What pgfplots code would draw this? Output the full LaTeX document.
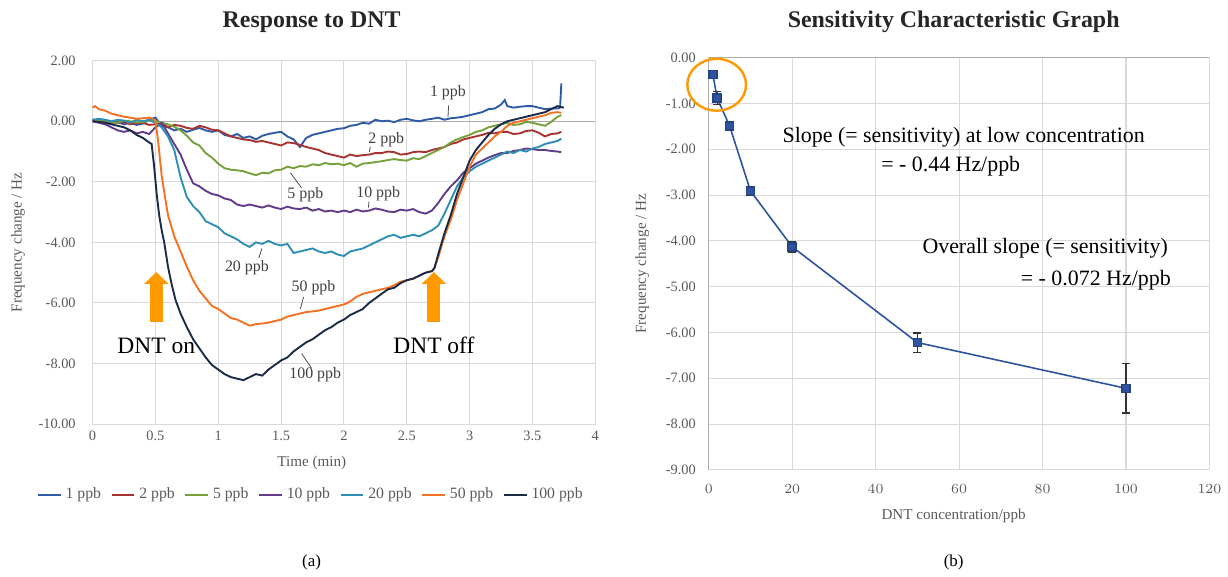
\documentclass[border=0pt]{standalone}
\usepackage{fontspec}
\setmainfont{Liberation Serif}
\usepackage{pgfplots}
\pgfplotsset{compat=1.18}
\usetikzlibrary{arrows.meta}
\definecolor{c1}{RGB}{46,90,166}
\definecolor{c2}{RGB}{168,50,45}
\definecolor{c5}{RGB}{118,160,58}
\definecolor{c10}{RGB}{96,60,138}
\definecolor{c20}{RGB}{46,143,181}
\definecolor{c50}{RGB}{244,112,35}
\definecolor{c100}{RGB}{27,42,71}
\definecolor{ticktxt}{RGB}{89,89,89}
\definecolor{arrowor}{RGB}{255,153,0}
\definecolor{ptblue}{RGB}{46,84,161}
\definecolor{gridc}{RGB}{217,217,217}

\pgfplotsset{
  excel/.style={
    scale only axis,
    grid=major,
    grid style={gridc, line width=0.55pt},
    axis line style={gridc, line width=0.55pt},
    major tick length=0pt,
    tick label style={font=\fontsize{7.2}{8}\selectfont, text=ticktxt},
    label style={font=\fontsize{7.6}{9}\selectfont, text=ticktxt},
    clip=false,
  }
}

\begin{document}
\begin{tikzpicture}[x=1pt,y=1pt]
\path (0,0) rectangle (614,289);

% ---------- (a) response curves ----------
\begin{axis}[excel,
  at={(46.5pt,76pt)}, anchor=south west,
  width=252.5pt, height=182.5pt,
  xmin=0, xmax=4, ymin=-10, ymax=2,
  xtick={0,0.5,1,1.5,2,2.5,3,3.5,4},
  xticklabels={0,0.5,1,1.5,2,2.5,3,3.5,4},
  ytick={-10,-8,-6,-4,-2,0,2},
  yticklabels={-10.00,-8.00,-6.00,-4.00,-2.00,0.00,2.00},
  yticklabel style={xshift=-5pt},
  xlabel={Time (min)},
  ylabel={Frequency change / Hz},
  xlabel style={at={(axis description cs:0.436,-0.107)}, anchor=center},
  ylabel style={at={(axis description cs:-0.1485,0.5)}, anchor=center, rotate=0},
  legend columns=7,
  legend style={at={(0.436,-0.152)}, anchor=north, draw=none, fill=none,
    font=\fontsize{7.9}{9}\selectfont, text=ticktxt,
    /tikz/every even column/.append style={column sep=2.8pt}},
  legend image code/.code={\draw[#1] (0pt,0pt) -- (11.5pt,0pt);},
  every axis plot/.append style={line width=0.95pt, mark=none},
]
\draw[gray!65, line width=0.6pt] (axis cs:0,0) -- (axis cs:4,0);

\addplot[c1] coordinates {
(0,0.05) (0.05,0.0) (0.1,0.02) (0.15,-0.05) (0.2,-0.03) (0.25,-0.1) (0.3,-0.05) (0.35,-0.12)
(0.4,-0.08) (0.45,0.05) (0.5,0.12) (0.55,-0.15) (0.6,-0.2) (0.65,-0.3) (0.7,-0.25) (0.75,-0.35)
(0.8,-0.28) (0.85,-0.22) (0.9,-0.3) (0.95,-0.35) (1.0,-0.3) (1.05,-0.45) (1.1,-0.5) (1.15,-0.42)
(1.2,-0.55) (1.25,-0.5) (1.3,-0.6) (1.35,-0.48) (1.4,-0.42) (1.45,-0.38) (1.5,-0.35) (1.55,-0.5)
(1.6,-0.6) (1.65,-0.85) (1.7,-0.55) (1.75,-0.45) (1.8,-0.4) (1.85,-0.35) (1.9,-0.3) (1.95,-0.25)
(2.0,-0.23) (2.05,-0.15) (2.1,-0.12) (2.15,-0.05) (2.2,-0.08) (2.25,0.05) (2.3,0.0) (2.35,0.02)
(2.4,-0.03) (2.45,0.05) (2.5,0.08) (2.55,0.03) (2.6,0.0) (2.65,0.05) (2.7,0.08) (2.75,0.12)
(2.8,0.05) (2.85,0.1) (2.9,0.12) (2.95,0.15) (3.0,0.2) (3.05,0.25) (3.1,0.3) (3.15,0.4)
(3.2,0.42) (3.25,0.55) (3.28,0.7) (3.3,0.5) (3.35,0.45) (3.4,0.48) (3.45,0.5) (3.5,0.5)
(3.55,0.45) (3.6,0.4) (3.65,0.42) (3.7,0.42) (3.72,0.45) (3.73,1.25)};
\addlegendentry{1 ppb}

\addplot[c2] coordinates {
(0,0.05) (0.05,0.02) (0.1,0.0) (0.15,-0.03) (0.2,-0.05) (0.25,-0.02) (0.3,-0.1) (0.35,-0.06)
(0.4,-0.05) (0.45,-0.12) (0.5,-0.1) (0.55,-0.05) (0.6,-0.2) (0.65,-0.12) (0.7,-0.15) (0.75,-0.22)
(0.8,-0.25) (0.85,-0.15) (0.9,-0.2) (0.95,-0.28) (1.0,-0.3) (1.05,-0.4) (1.1,-0.5) (1.15,-0.55)
(1.2,-0.6) (1.25,-0.62) (1.3,-0.68) (1.35,-0.65) (1.4,-0.7) (1.45,-0.75) (1.5,-0.8) (1.55,-0.7)
(1.6,-0.72) (1.65,-0.78) (1.7,-0.85) (1.75,-0.9) (1.8,-0.95) (1.85,-1.05) (1.9,-1.1) (1.95,-1.15)
(2.0,-1.2) (2.05,-1.1) (2.1,-1.15) (2.15,-1.12) (2.2,-1.1) (2.25,-1.05) (2.3,-1.05) (2.35,-1.0)
(2.4,-1.02) (2.45,-1.1) (2.5,-1.08) (2.55,-1.02) (2.6,-1.0) (2.65,-1.02) (2.7,-0.95) (2.75,-0.9)
(2.8,-0.85) (2.85,-0.75) (2.9,-0.7) (2.95,-0.6) (3.0,-0.55) (3.05,-0.5) (3.1,-0.45) (3.15,-0.38)
(3.2,-0.4) (3.25,-0.35) (3.3,-0.35) (3.35,-0.42) (3.4,-0.4) (3.45,-0.32) (3.5,-0.3) (3.55,-0.38)
(3.6,-0.5) (3.65,-0.42) (3.7,-0.4) (3.73,-0.35)};
\addlegendentry{2 ppb}

\addplot[c5] coordinates {
(0,0.0) (0.05,0.03) (0.1,0.02) (0.15,-0.02) (0.2,-0.05) (0.25,0.02) (0.3,0.0) (0.35,-0.04)
(0.4,-0.03) (0.45,0.02) (0.5,0.02) (0.55,-0.05) (0.6,-0.1) (0.65,-0.18) (0.7,-0.3) (0.75,-0.48)
(0.8,-0.7) (0.85,-0.8) (0.9,-1.05) (0.95,-1.2) (1.0,-1.4) (1.05,-1.55) (1.1,-1.6) (1.15,-1.62)
(1.2,-1.65) (1.25,-1.72) (1.3,-1.78) (1.35,-1.7) (1.4,-1.72) (1.45,-1.62) (1.5,-1.6) (1.55,-1.5)
(1.6,-1.55) (1.65,-1.48) (1.7,-1.5) (1.75,-1.42) (1.8,-1.45) (1.85,-1.38) (1.9,-1.42) (1.95,-1.4)
(2.0,-1.45) (2.05,-1.38) (2.1,-1.5) (2.15,-1.4) (2.2,-1.38) (2.25,-1.35) (2.3,-1.32) (2.35,-1.28)
(2.4,-1.25) (2.45,-1.28) (2.5,-1.3) (2.55,-1.22) (2.6,-1.25) (2.65,-1.15) (2.7,-1.05) (2.75,-0.95)
(2.8,-0.85) (2.85,-0.7) (2.9,-0.6) (2.95,-0.52) (3.0,-0.45) (3.05,-0.35) (3.1,-0.3) (3.15,-0.2)
(3.2,-0.15) (3.25,-0.1) (3.3,-0.05) (3.35,-0.12) (3.4,-0.1) (3.45,-0.02) (3.5,-0.05) (3.55,-0.1)
(3.6,-0.15) (3.65,-0.02) (3.7,0.15) (3.73,0.2)};
\addlegendentry{5 ppb}

\addplot[c10] coordinates {
(0,0.0) (0.05,-0.05) (0.1,-0.1) (0.15,-0.2) (0.2,-0.3) (0.25,-0.35) (0.3,-0.3) (0.35,-0.4)
(0.4,-0.35) (0.45,-0.42) (0.5,-0.2) (0.55,-0.05) (0.6,-0.4) (0.65,-0.75) (0.7,-1.1) (0.75,-1.6)
(0.8,-2.05) (0.85,-2.15) (0.9,-2.3) (0.95,-2.4) (1.0,-2.45) (1.05,-2.55) (1.1,-2.6) (1.15,-2.75)
(1.2,-2.8) (1.25,-2.75) (1.3,-2.8) (1.35,-2.85) (1.4,-2.78) (1.45,-2.85) (1.5,-2.9) (1.55,-2.82)
(1.6,-2.88) (1.65,-2.9) (1.7,-2.85) (1.75,-2.95) (1.8,-2.9) (1.85,-2.98) (1.9,-2.95) (1.95,-3.0)
(2.0,-2.95) (2.05,-3.0) (2.1,-2.92) (2.15,-2.98) (2.2,-2.95) (2.25,-2.88) (2.3,-2.92) (2.35,-2.98)
(2.4,-3.0) (2.45,-2.92) (2.5,-2.95) (2.55,-2.9) (2.6,-3.0) (2.65,-3.05) (2.7,-2.95) (2.75,-2.7)
(2.8,-2.4) (2.85,-2.15) (2.9,-1.95) (2.95,-1.7) (3.0,-1.55) (3.05,-1.4) (3.1,-1.3) (3.15,-1.2)
(3.2,-1.12) (3.25,-1.05) (3.3,-1.05) (3.35,-0.98) (3.4,-0.95) (3.45,-0.9) (3.5,-0.92) (3.55,-0.95)
(3.6,-0.95) (3.65,-0.98) (3.7,-1.0) (3.73,-1.02)};
\addlegendentry{10 ppb}

\addplot[c20] coordinates {
(0,0.05) (0.05,0.08) (0.1,0.05) (0.15,0.0) (0.2,0.05) (0.25,0.02) (0.3,-0.05) (0.35,0.05)
(0.4,0.0) (0.45,0.05) (0.5,-0.05) (0.55,-0.2) (0.6,-0.5) (0.65,-0.95) (0.7,-1.85) (0.75,-2.5)
(0.8,-2.8) (0.85,-3.0) (0.9,-3.3) (0.95,-3.4) (1.0,-3.5) (1.05,-3.7) (1.1,-3.8) (1.15,-3.9)
(1.2,-4.05) (1.25,-4.15) (1.3,-4.0) (1.35,-4.05) (1.4,-3.95) (1.45,-4.05) (1.5,-4.1) (1.55,-4.05)
(1.6,-4.35) (1.65,-4.3) (1.7,-4.25) (1.75,-4.2) (1.8,-4.3) (1.85,-4.35) (1.9,-4.3) (1.95,-4.4)
(2.0,-4.45) (2.05,-4.3) (2.1,-4.25) (2.15,-4.2) (2.2,-4.1) (2.25,-4.0) (2.3,-3.9) (2.35,-3.8)
(2.4,-3.75) (2.45,-3.85) (2.5,-3.8) (2.55,-3.75) (2.6,-3.8) (2.65,-3.7) (2.7,-3.6) (2.75,-3.45)
(2.8,-3.05) (2.85,-2.6) (2.9,-2.15) (2.95,-1.85) (3.0,-1.65) (3.05,-1.5) (3.1,-1.4) (3.15,-1.3)
(3.2,-1.2) (3.25,-1.1) (3.3,-1.0) (3.35,-1.05) (3.4,-0.95) (3.45,-1.0) (3.5,-0.9) (3.55,-0.85)
(3.6,-0.75) (3.65,-0.7) (3.7,-0.65) (3.73,-0.57)};
\addlegendentry{20 ppb}

\addplot[c50] coordinates {
(0,0.45) (0.02,0.5) (0.05,0.4) (0.1,0.35) (0.15,0.25) (0.2,0.2) (0.25,0.15) (0.3,0.12)
(0.35,0.08) (0.4,0.1) (0.45,0.12) (0.48,0.08) (0.5,0.0) (0.52,-0.6) (0.55,-1.8) (0.58,-2.6)
(0.6,-3.1) (0.65,-3.8) (0.7,-4.3) (0.75,-4.8) (0.8,-5.25) (0.85,-5.6) (0.9,-5.85) (0.95,-6.1)
(1.0,-6.2) (1.05,-6.35) (1.1,-6.5) (1.15,-6.55) (1.2,-6.65) (1.25,-6.75) (1.3,-6.7) (1.35,-6.68)
(1.4,-6.65) (1.45,-6.6) (1.5,-6.55) (1.55,-6.45) (1.6,-6.4) (1.65,-6.35) (1.7,-6.3) (1.75,-6.28)
(1.8,-6.25) (1.85,-6.2) (1.9,-6.15) (1.95,-6.1) (2.0,-6.05) (2.05,-5.95) (2.1,-5.8) (2.15,-5.7)
(2.2,-5.65) (2.25,-5.6) (2.3,-5.55) (2.35,-5.5) (2.4,-5.42) (2.45,-5.3) (2.5,-5.25) (2.55,-5.2)
(2.6,-5.1) (2.65,-5.0) (2.7,-4.95) (2.72,-4.85) (2.75,-4.5) (2.8,-3.8) (2.85,-3.25) (2.9,-2.6)
(2.95,-2.05) (3.0,-1.5) (3.05,-1.1) (3.1,-0.9) (3.15,-0.7) (3.2,-0.5) (3.25,-0.35) (3.3,-0.15)
(3.35,-0.05) (3.4,0.0) (3.45,0.05) (3.5,0.1) (3.55,0.15) (3.6,0.2) (3.65,0.28) (3.7,0.3) (3.73,0.28)};
\addlegendentry{50 ppb}

\addplot[c100] coordinates {
(0,0.0) (0.05,-0.02) (0.1,-0.05) (0.15,-0.1) (0.2,-0.15) (0.25,-0.2) (0.3,-0.3) (0.35,-0.45)
(0.4,-0.55) (0.45,-0.7) (0.47,-0.75) (0.49,-1.5) (0.51,-2.4) (0.53,-3.1) (0.55,-3.6) (0.57,-4.0)
(0.6,-4.8) (0.63,-5.4) (0.66,-5.9) (0.7,-6.35) (0.75,-6.8) (0.8,-7.2) (0.85,-7.5) (0.9,-7.8)
(0.95,-8.05) (1.0,-8.2) (1.05,-8.35) (1.1,-8.45) (1.15,-8.5) (1.2,-8.55) (1.25,-8.45) (1.3,-8.35)
(1.35,-8.4) (1.4,-8.2) (1.45,-8.05) (1.5,-7.9) (1.55,-7.8) (1.6,-7.6) (1.65,-7.45) (1.7,-7.3)
(1.75,-7.2) (1.8,-7.05) (1.85,-6.9) (1.9,-6.8) (1.95,-6.65) (2.0,-6.55) (2.05,-6.4) (2.1,-6.3)
(2.15,-6.2) (2.2,-6.0) (2.25,-5.85) (2.3,-5.7) (2.35,-5.55) (2.4,-5.5) (2.45,-5.35) (2.5,-5.25)
(2.55,-5.2) (2.6,-5.1) (2.65,-5.0) (2.7,-4.95) (2.72,-4.85) (2.75,-4.4) (2.8,-3.7) (2.85,-3.1)
(2.9,-2.4) (2.95,-1.85) (3.0,-1.3) (3.05,-0.95) (3.1,-0.7) (3.15,-0.45) (3.2,-0.25) (3.25,-0.1)
(3.3,0.0) (3.35,0.05) (3.4,0.1) (3.45,0.15) (3.5,0.2) (3.55,0.25) (3.6,0.3) (3.65,0.4) (3.7,0.5) (3.75,0.45)};
\addlegendentry{100 ppb}

% concentration labels
\begin{scope}[every node/.style={font=\fontsize{8}{9}\selectfont, text=black!75}]
\node at (axis cs:2.828,0.96) {1 ppb};
\draw[black!70, line width=0.4pt] (axis cs:2.833,0.52) -- (axis cs:2.828,0.14);
\node at (axis cs:2.337,-0.62) {2 ppb};
\draw[black!70, line width=0.4pt] (axis cs:2.21,-0.84) -- (axis cs:2.202,-1.01);
\node at (axis cs:2.273,-2.39) {10 ppb};
\draw[black!70, line width=0.4pt] (axis cs:2.2,-2.65) -- (axis cs:2.194,-2.85);
\node at (axis cs:1.693,-2.43) {5 ppb};
\draw[black!70, line width=0.4pt] (axis cs:1.574,-1.70) -- (axis cs:1.663,-2.20);
\node at (axis cs:1.228,-4.82) {20 ppb};
\draw[black!70, line width=0.4pt] (axis cs:1.347,-4.20) -- (axis cs:1.323,-4.52);
\node at (axis cs:1.758,-5.48) {50 ppb};
\draw[black!70, line width=0.4pt] (axis cs:1.679,-5.80) -- (axis cs:1.653,-6.2);
\node at (axis cs:1.772,-8.38) {100 ppb};
\draw[black!70, line width=0.4pt] (axis cs:1.663,-7.67) -- (axis cs:1.743,-8.16);
\end{scope}

% DNT on / off arrows
\draw[arrowor, line width=6.5pt, -{Triangle[width=12pt,length=6pt]}]
  (axis cs:0.507,-6.62) -- (axis cs:0.507,-4.98);
\draw[arrowor, line width=6.5pt, -{Triangle[width=12pt,length=6pt]}]
  (axis cs:2.716,-6.62) -- (axis cs:2.716,-4.98);
\node[font=\fontsize{11.8}{13}\selectfont] at (axis cs:0.507,-7.41) {DNT on};
\node[font=\fontsize{11.8}{13}\selectfont] at (axis cs:2.716,-7.41) {DNT off};
\end{axis}

% ---------- (b) sensitivity ----------
\begin{axis}[excel,
  at={(356pt,53pt)}, anchor=south west,
  width=251.5pt, height=207pt,
  xmin=0, xmax=120, ymin=-9, ymax=0,
  xtick={0,20,40,60,80,100,120},
  ytick={-9,-8,-7,-6,-5,-4,-3,-2,-1,0},
  yticklabels={-9.00,-8.00,-7.00,-6.00,-5.00,-4.00,-3.00,-2.00,-1.00,0.00},
  yticklabel style={xshift=-3pt},
  xticklabel style={yshift=-4pt},
  xlabel={DNT concentration/ppb},
  ylabel={Frequency change / Hz},
  xlabel style={at={(axis description cs:0.489,-0.112)}, anchor=center},
  ylabel style={at={(axis description cs:-0.133,0.5)}, anchor=center},
]
\draw[gray!65, line width=0.6pt] (axis cs:0,0) -- (axis cs:120,0);
\draw[gray!65, line width=0.6pt] (axis cs:0,0) -- (axis cs:0,-9);
\addplot[ptblue, line width=0.8pt, mark=square*, mark size=2pt,
  mark options={fill=ptblue, draw=ptblue!80!black},
  error bars/.cd, y dir=both, y explicit,
  error bar style={black!80, line width=0.6pt},
  error mark options={rotate=90, mark size=2pt, black!80, line width=0.6pt}]
coordinates {
(1,-0.37) +- (0,0.09)
(2,-0.88) +- (0,0.14)
(5,-1.49) +- (0,0.04)
(10,-2.91) +- (0,0.04)
(20,-4.13) +- (0,0.12)
(50,-6.22) +- (0,0.21)
(100,-7.22) +- (0,0.54)};

\draw[arrowor, line width=1.2pt] (axis cs:1.9,-0.59) ellipse [x radius=14.75pt, y radius=13pt];

\node[font=\fontsize{11}{13}\selectfont] at (axis cs:61.1,-1.74) {Slope (= sensitivity) at low concentration};
\node[font=\fontsize{11}{13}\selectfont] at (axis cs:58,-2.37) {= - 0.44 Hz/ppb};
\node[font=\fontsize{11}{13}\selectfont, anchor=east] at (axis cs:111.7,-4.17) {Overall slope (= sensitivity)};
\node[font=\fontsize{11}{13}\selectfont, anchor=east] at (axis cs:112.4,-4.85) {= - 0.072 Hz/ppb};
\end{axis}

% titles and captions
\node[font=\bfseries\fontsize{12}{14}\selectfont, text=black!85] at (156.5pt,278pt) {Response to DNT};
\node[font=\bfseries\fontsize{12}{14}\selectfont, text=black!85] at (479pt,278pt) {Sensitivity Characteristic Graph};
\node[font=\fontsize{8.5}{10}\selectfont] at (156.5pt,6.5pt) {(a)};
\node[font=\fontsize{8.5}{10}\selectfont] at (479pt,6.5pt) {(b)};
\end{tikzpicture}
\end{document}
